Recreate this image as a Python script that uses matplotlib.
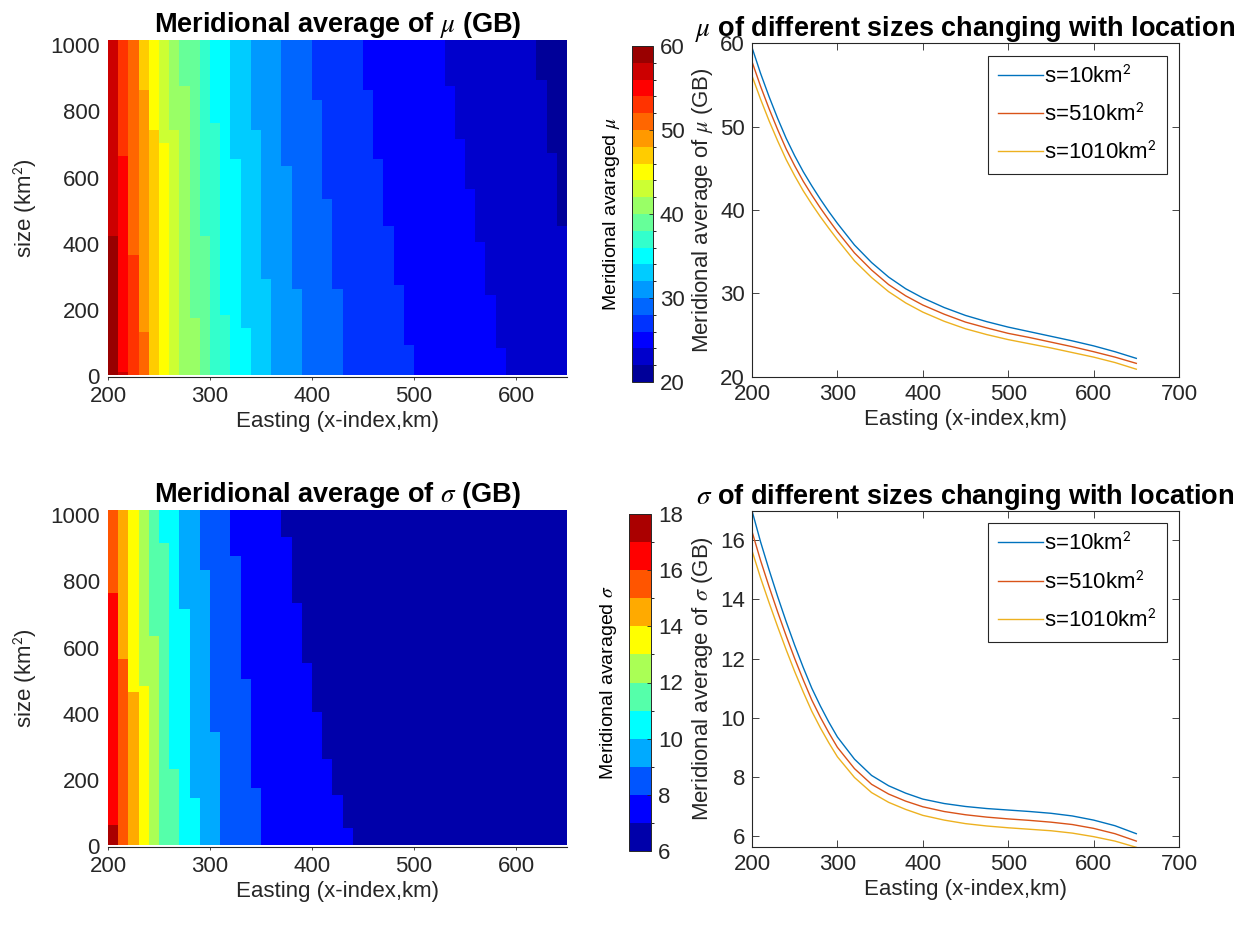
import numpy as np
import matplotlib
matplotlib.use('Agg')
import matplotlib.pyplot as plt
from matplotlib.colors import ListedColormap, BoundaryNorm

plt.rcParams['font.family'] = ['Liberation Sans', 'DejaVu Sans']
plt.rcParams['mathtext.fontset'] = 'stix'

# ---------------- data ----------------
# heat-map grid (Easting columns of 10 km, size rows of 10 km^2)
easting_edges = np.arange(200, 651, 10)
size_centres = np.arange(10, 1011, 10)
size_edges = np.arange(5, 1016, 10)

# mu (GB): band value in the s=10 row for each Easting column, and the sizes
# at which the value drops by one colour band (2 GB) going up the column
mu_bottom = [59, 57, 53, 51, 47, 45, 43, 41, 41, 39,
             37, 37, 35, 35, 33, 33, 31, 31, 31, 29,
             29, 29, 29, 27, 27, 27, 27, 27, 27, 27,
             25, 25, 25, 25, 25, 25, 25, 25, 25, 23,
             23, 23, 23, 23, 23]
mu_breaks = [[420], [15, 665], [365], [135, 860], [740], [700], [745], [870], [170], [425],
             [765], [185], [655], [140], [740], [290], [], [630], [263], [],
             [835], [539], [263], [], [], [865], [655], [458], [270], [94],
             [], [], [], [872], [715], [561], [405], [245], [81], [],
             [], [], [890], [678], [450]]

# sigma (GB): same layout, bands of 1 GB
sigma_bottom = [17.5, 15.5, 14.5, 13.5, 12.5, 11.5, 11.5, 10.5, 10.5, 9.5,
                9.5, 8.5, 8.5, 8.5, 8.5, 7.5, 7.5, 7.5, 7.5, 7.5,
                7.5, 7.5, 7.5, 7.5, 6.5, 6.5, 6.5, 6.5, 6.5, 6.5,
                6.5, 6.5, 6.5, 6.5, 6.5, 6.5, 6.5, 6.5, 6.5, 6.5,
                6.5, 6.5, 6.5, 6.5, 6.5]
sigma_breaks = [[65, 765], [560], [463], [482], [631], [911], [238], [719], [144], [835],
                [349], [], [872], [506], [179], [], [], [931], [731], [550],
                [400], [263], [154], [58], [], [], [], [], [], [],
                [], [], [], [], [], [], [], [], [], [],
                [], [], [], [], []]

# line plots
line_x = [200, 210, 220, 230, 240, 250, 260, 270, 280, 290, 300, 320, 340, 360,
          380, 400, 425, 450, 475, 500, 525, 550, 575, 600, 625, 650]
mu_s10 = [59.5, 56.4, 53.6, 51.0, 48.6, 46.5, 44.6, 42.9, 41.3, 39.8, 38.4, 35.8, 33.7,
          31.95, 30.55, 29.45, 28.3, 27.35, 26.6, 25.95, 25.4, 24.85, 24.3, 23.7, 23.0, 22.2]
mu_s510 = [57.8, 54.85, 52.15, 49.65, 47.32, 45.3, 43.45, 41.8, 40.25, 38.8, 37.4, 34.85,
           32.8, 31.05, 29.7, 28.6, 27.5, 26.55, 25.85, 25.2, 24.7, 24.15, 23.6, 23.0, 22.35, 21.6]
mu_s1010 = [56.1, 53.3, 50.7, 48.3, 46.05, 44.1, 42.3, 40.7, 39.2, 37.8, 36.45, 33.9, 31.9,
            30.2, 28.85, 27.75, 26.65, 25.75, 25.05, 24.45, 23.95, 23.45, 22.9, 22.35, 21.7, 20.9]
sig_s10 = [17.0, 15.95, 15.0, 14.1, 13.25, 12.45, 11.7, 11.0, 10.4, 9.85, 9.35, 8.6, 8.05,
           7.7, 7.45, 7.25, 7.1, 7.0, 6.93, 6.88, 6.83, 6.77, 6.68, 6.54, 6.35, 6.08]
sig_s510 = [16.3, 15.32, 14.43, 13.58, 12.77, 12.0, 11.28, 10.6, 10.02, 9.49, 9.0, 8.28, 7.75,
            7.42, 7.18, 6.99, 6.83, 6.72, 6.64, 6.58, 6.53, 6.47, 6.39, 6.26, 6.08, 5.83]
sig_s1010 = [15.65, 14.73, 13.89, 13.08, 12.3, 11.56, 10.87, 10.22, 9.66, 9.15, 8.68, 7.98,
             7.47, 7.14, 6.9, 6.7, 6.54, 6.42, 6.34, 6.28, 6.23, 6.18, 6.1, 5.98, 5.83, 5.62]
legend_labels = ['s=10km$^\\mathsf{2}$', 's=510km$^\\mathsf{2}$', 's=1010km$^\\mathsf{2}$']

mu_levels = np.arange(20, 61, 2)
sigma_levels = np.arange(6, 19, 1)

# ---------------- helpers ----------------
def matlab_jet(m):
    n = int(np.ceil(m / 4))
    u = np.concatenate([np.arange(1, n + 1) / n, np.ones(n - 1), np.arange(n, 0, -1) / n])
    g = int(np.ceil(n / 2)) - (1 if m % 4 == 1 else 0) + np.arange(1, len(u) + 1)
    r = g + n
    b = g - n
    J = np.zeros((m, 3))
    mr = r <= m
    J[r[mr] - 1, 0] = u[mr]
    mg = g <= m
    J[g[mg] - 1, 1] = u[mg]
    mb = b >= 1
    J[b[mb] - 1, 2] = u[len(u) - mb.sum():]
    return J


def build_grid(bottom, breaks, band):
    grid = np.zeros((len(size_centres), len(bottom)))
    for j, (b0, brk) in enumerate(zip(bottom, breaks)):
        brk = np.array(brk, dtype=float)
        drops = np.array([np.sum(brk < s) for s in size_centres])
        grid[:, j] = b0 - band * drops
    return grid


TXT = (0.15, 0.15, 0.15)
FS = 16
TFS = 19.5
W, H = 1260, 926
fig = plt.figure(figsize=(W / 100, H / 100), dpi=100)


def px_axes(x0, y0, x1, y1):
    return fig.add_axes([x0 / W, 1 - y1 / H, (x1 - x0) / W, (y1 - y0) / H])


line_colors = ['#0072BD', '#D95319', '#EDB120']


def heat_panel(ax_box, cb_box, bottom, breaks, band, levels, title, cblabel, cbticks):
    ax = px_axes(*ax_box)
    grid = build_grid(bottom, breaks, band)
    cmap = ListedColormap(matlab_jet(len(levels) - 1))
    norm = BoundaryNorm(levels, cmap.N)
    mesh = ax.pcolormesh(easting_edges, size_edges, grid, cmap=cmap, norm=norm,
                         shading='flat', zorder=0)
    ax.set_xlim(200, 650)
    ax.set_ylim(0, 1015)
    ax.set_xticks([200, 300, 400, 500, 600])
    ax.set_yticks([0, 200, 400, 600, 800, 1000])
    for s in ['top', 'right', 'left']:
        ax.spines[s].set_visible(False)
    ax.spines['bottom'].set_color(TXT)
    ax.spines['bottom'].set_linewidth(0.8)
    ax.tick_params(axis='x', direction='out', length=2.5, width=0.6, colors=TXT,
                   labelsize=FS, pad=4)
    ax.tick_params(axis='y', length=0, colors=TXT, labelsize=FS, pad=6)
    ax.set_xlabel('Easting (x-index,km)', fontsize=FS, color=TXT, labelpad=3)
    ax.set_ylabel('size (km$^\\mathsf{2}$)', fontsize=FS, color=TXT, labelpad=8)
    ax.set_title(title, fontsize=TFS, fontweight='bold', pad=5)
    cax = px_axes(*cb_box)
    cb = fig.colorbar(mesh, cax=cax, ticks=cbticks)
    cb.outline.set_linewidth(0.7)
    cb.outline.set_edgecolor(TXT)
    cax.tick_params(direction='in', length=3, width=0.6, colors=TXT, labelsize=FS, pad=5)
    cax.yaxis.set_label_position('left')
    cax.set_ylabel(cblabel, fontsize=14, color='black', labelpad=7)
    return ax


def line_panel(ax_box, ys, ylim, yticks, title, ylabel):
    ax = px_axes(*ax_box)
    for y, c, lab in zip(ys, line_colors, legend_labels):
        ax.plot(line_x, y, color=c, lw=1.0, label=lab)
    ax.set_xlim(200, 700)
    ax.set_ylim(*ylim)
    ax.set_xticks([200, 300, 400, 500, 600, 700])
    ax.set_yticks(yticks)
    for s in ax.spines.values():
        s.set_color(TXT)
        s.set_linewidth(0.8)
    ax.tick_params(direction='in', length=5, width=0.6, colors=TXT, labelsize=FS,
                   top=True, right=True, pad=5)
    ax.set_xlabel('Easting (x-index,km)', fontsize=FS, color=TXT, labelpad=3)
    ax.set_ylabel(ylabel, fontsize=FS, color=TXT, labelpad=4)
    ax.set_title(title, fontsize=TFS, fontweight='bold', pad=5)
    leg = ax.legend(loc='upper right', fontsize=FS, frameon=True, fancybox=False,
                    edgecolor=TXT, framealpha=1, handlelength=2.0, handletextpad=0.05,
                    labelspacing=0.72, borderpad=0.45, borderaxespad=0.55)
    leg.get_frame().set_linewidth(0.8)
    for t in leg.get_texts():
        t.set_color('black')
    return ax


heat_panel((108, 40, 567, 376.5), (632, 46, 653, 382), mu_bottom, mu_breaks, 2, mu_levels,
           r'Meridional average of $\mu$ (GB)', r'Meridional avaraged $\mu$',
           [20, 30, 40, 50, 60])
heat_panel((108, 510, 567, 846.5), (629, 514, 651, 851), sigma_bottom, sigma_breaks, 1,
           sigma_levels, r'Meridional average of $\sigma$ (GB)',
           r'Meridional avaraged $\sigma$', [6, 8, 10, 12, 14, 16, 18])

line_panel((752, 43.3, 1179, 376.7), [mu_s10, mu_s510, mu_s1010], (20, 60),
           [20, 30, 40, 50, 60], r'$\mu$ of different sizes changing with location',
           r'Meridional average of $\mu$ (GB)')
line_panel((752, 510.7, 1179, 847.3), [sig_s10, sig_s510, sig_s1010],
           (min(sig_s1010), max(sig_s10)), [6, 8, 10, 12, 14, 16],
           r'$\sigma$ of different sizes changing with location',
           r'Meridional average of $\sigma$ (GB)')

fig.savefig('out.png', dpi=100)
